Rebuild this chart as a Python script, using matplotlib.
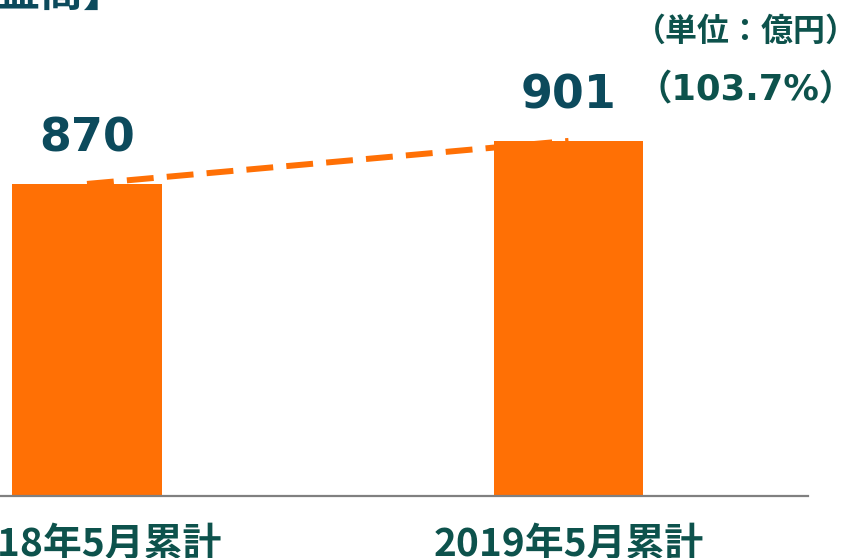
import matplotlib
matplotlib.use('Agg')
import matplotlib.pyplot as plt

plt.rcParams['font.family'] = ['DejaVu Sans', 'Noto Sans CJK JP']

categories = ['2018年5月累計', '2019年5月累計']
values = [870, 901]
ratio_label = '（103.7%）'
unit_label = '（単位：億円）'
title = '【営業利益高】'

bar_color = '#ff7005'
num_color = '#0c4a5c'
text_color = '#0d524c'

fig = plt.figure(figsize=(8.49, 5.58), dpi=100)
ax = fig.add_axes([0, 62/558, 808/849, 496/558])

x = list(range(len(values)))
ax.bar(x, values, width=0.3115, color=bar_color, zorder=2)
ax.plot(x, values, color=bar_color, lw=4.3, dashes=(4.5, 2.2), zorder=3)

ax.set_xlim(-0.1807, 1.4974)
ax.set_ylim(645, 1002.6)

for xi, v in zip(x, values):
    ax.annotate(f'{v}', (xi, v), xytext=(0, 32), textcoords='offset points',
                ha='center', va='center', fontsize=33, fontweight='bold',
                color=num_color, family='DejaVu Sans')

ax.annotate(ratio_label, (x[1], values[1]), xytext=(49, 36), textcoords='offset points',
            ha='left', va='center', fontsize=25.5, fontweight='bold', color=text_color,
            family=['DejaVu Sans', 'Noto Sans CJK JP'])

fig.text(858/849, 1 - 32/558, unit_label, ha='right', va='center', fontsize=23,
         fontweight='bold', color=text_color, family='Noto Sans CJK JP')

fig.text(127/849, 1 - 6/558, title, ha='right', va='baseline', fontsize=31,
         fontweight='bold', color=num_color, family='Noto Sans CJK JP')

ax.set_xticks(x)
ax.set_xticklabels(categories, fontsize=28, fontweight='bold', color=text_color,
                   family='Noto Sans CJK JP')
ax.tick_params(axis='x', length=0, pad=21)
ax.set_yticks([])
for s in ['top', 'right', 'left']:
    ax.spines[s].set_visible(False)
ax.spines['bottom'].set_color('#808080')
ax.spines['bottom'].set_linewidth(1.6)

fig.savefig('out.png', dpi=100)
